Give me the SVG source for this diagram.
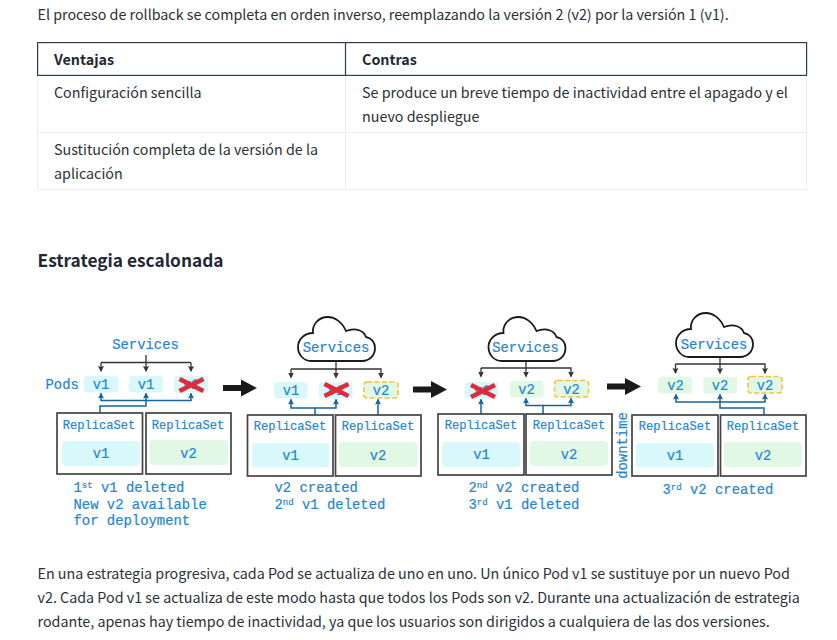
<svg xmlns="http://www.w3.org/2000/svg" xmlns:xlink="http://www.w3.org/1999/xlink" width="837" height="640" viewBox="0 0 837 640">
<style>
.b{font-family:"Noto Sans CJK JP","Noto Sans",sans-serif;font-size:14.3px;fill:#2a2f36}
.h{font-weight:700;fill:#1f2933}
.m{font-family:"Liberation Mono","DejaVu Sans Mono",monospace;fill:#1f86d2;stroke:#1f86d2;stroke-width:.2}
.s{font-size:13.9px}.r{font-size:12.1px}.v{font-size:13.8px}
.sup{font-size:9px}
.mid{text-anchor:middle}
.rs{fill:#fff;stroke:#444;stroke-width:1.7}
.c{fill:#d9f8fc}.g{fill:#e0f8e4}
.d{stroke:#f8c32e;stroke-width:1.6;stroke-dasharray:5 2.5}
.k{fill:none;stroke:#333;stroke-width:1.3}
.u{fill:none;stroke:#14649f;stroke-width:1.5}
.ka{marker-end:url(#mk)}.ua{marker-end:url(#mu)}
.x{stroke:#e02a3a;stroke-width:4.6;fill:none}
.cl{fill:#fff;stroke:#1a1a1a;stroke-width:1.8}
.big{fill:#1a1a1a}
.line{fill:none;stroke:#e8edf6;stroke-width:1}
.hd{fill:none;stroke:#2e3e52;stroke-width:1.2}
</style>
<defs>
<marker id="mk" markerUnits="userSpaceOnUse" markerWidth="8" markerHeight="8" refX="5" refY="3" orient="auto"><path d="M0,0L6,3L0,6L1,3Z" fill="#333"/></marker>
<marker id="mu" markerUnits="userSpaceOnUse" markerWidth="8" markerHeight="8" refX="5" refY="3" orient="auto"><path d="M0,0L6,3L0,6L1,3Z" fill="#14649f"/></marker>
<path id="cloud" class="cl" d="M13,44H64C72,44 77,38 77,31C77,25 73,21 68,20C66,14 58,10 48,14C44,5 37,0 30,0C20,0 14,8 15,16C6,16 0,23 0,30C0,38 6,44 13,44Z"/>
<path id="big" class="big" d="M0,-3H18V-8.5L34,0L18,8.5V3H0Z"/>
<path id="cross" class="x" d="M-12,-6L12,6M-12,6L12,-6"/>
</defs>

<g id="page-text">
<text class="b" x="37.500" y="20">El proceso de rollback se completa en orden inverso, reemplazando la versión 2 (v2) por la versión 1 (v1).</text>
<text class="b h" x="37.500" y="266.500" style="font-size:17.300px">Estrategia escalonada</text>
<text class="b" x="37.500" y="578.500">En una estrategia progresiva, cada Pod se actualiza de uno en uno. Un único Pod v1 se sustituye por un nuevo Pod</text>
<text class="b" x="37.500" y="602.500">v2. Cada Pod v1 se actualiza de este modo hasta que todos los Pods son v2. Durante una actualización de estrategia</text>
<text class="b" x="37.500" y="626.500">rodante, apenas hay tiempo de inactividad, ya que los usuarios son dirigidos a cualquiera de las dos versiones.</text>
</g>

<g id="table">
<path class="line" d="M37.500,75V189.500H806.500V75M345.500,75V189.500M38,132.500H806"/>
<rect class="hd" x="37.600" y="42.600" width="769" height="32.800"/>
<path class="hd" d="M345.500,43V75"/>
<text class="b h" x="54" y="65">Ventajas</text>
<text class="b h" x="362" y="65">Contras</text>
<text class="b" x="54" y="97.500">Configuración sencilla</text>
<text class="b" x="362" y="97.500">Se produce un breve tiempo de inactividad entre el apagado y el</text>
<text class="b" x="362" y="121.500">nuevo despliegue</text>
<text class="b" x="54" y="154.500">Sustitución completa de la versión de la</text>
<text class="b" x="54" y="178.500">aplicación</text>
</g>

<g id="connectors">
<path class="k" d="M146,355V362.500"/><path class="k ka" d="M101,362.500H191M101,362.500V371"/><path class="k ka" d="M146,362.500V371"/><path class="k ka" d="M191,362.500V371"/>
<path class="u ua" d="M146,400.500H101V393.500"/><path class="u ua" d="M146,400.500H191V393.500"/><path class="u ua" d="M100,413V406H146V393.500"/>
<path class="k" d="M336,361V369H291"/><path class="k ka" d="M291,369V377.500"/><path class="k ka" d="M336,369V377.500"/><path class="k ka" d="M336,369H381V377.500"/>
<path class="u ua" d="M315,415V408H291V399.500"/><path class="u ua" d="M315,408H336V399.500"/><path class="u ua" d="M378,415V399.500"/>
<path class="k" d="M526,361V368H481"/><path class="k ka" d="M481,368V376.500"/><path class="k ka" d="M526,368V376.500"/><path class="k ka" d="M526,368H571V376.500"/>
<path class="u ua" d="M481,414V399.500"/><path class="u ua" d="M543,414V405.500H526V398.500"/><path class="u ua" d="M543,405.500H571V398.500"/>
<path class="k" d="M720,357V364H675.500"/><path class="k ka" d="M675.500,364V373"/><path class="k ka" d="M720,364V373"/><path class="k ka" d="M720,364H765V373"/>
<path class="u ua" d="M720,402H676V394.500"/><path class="u ua" d="M720,402H765V394.500"/><path class="u ua" d="M764,415V408H720V394.500"/>
</g>

<g id="step-arrows">
<use xlink:href="#big" href="#big" x="223" y="388"/>
<use xlink:href="#big" href="#big" x="413" y="389.500"/>
<use xlink:href="#big" href="#big" x="607" y="386.500"/>
</g>

<g id="step-1">
<text class="m s mid" x="145.500" y="349">Services</text>
<text class="m s" x="45.500" y="389">Pods</text>
<g id="s1-pod-1"><rect class="c" x="84" y="376" width="34" height="16.500" rx="3"/><text class="m v mid" x="101" y="389">v1</text></g>
<g id="s1-pod-2"><rect class="c" x="129" y="376" width="34" height="16.500" rx="3"/><text class="m v mid" x="146" y="389">v1</text></g>
<g id="s1-pod-3"><rect class="c" x="174" y="376" width="34" height="16.500" rx="3"/><text class="m v mid" x="191" y="389">v1</text><use xlink:href="#cross" href="#cross" x="191.500" y="385"/></g>
<g id="s1-rs-1"><rect class="rs" x="57" y="413" width="85.500" height="61"/><rect class="c" x="62" y="441" width="78" height="25" rx="4"/><text class="m r mid" x="99" y="428.500">ReplicaSet</text><text class="m v mid" x="101" y="458">v1</text></g>
<g id="s1-rs-2"><rect class="rs" x="146" y="413" width="85" height="61"/><rect class="g" x="149.500" y="440" width="78.500" height="25" rx="4"/><text class="m r mid" x="188" y="428.500">ReplicaSet</text><text class="m v mid" x="188.500" y="458">v2</text></g>
<text class="m s" x="73.500" y="492">1<tspan class="sup" dy="-4">st</tspan><tspan dy="4"> v1 deleted</tspan></text>
<text class="m s" x="73.500" y="508.500">New v2 available</text>
<text class="m s" x="73.500" y="525">for deployment</text>
</g>

<g id="step-2">
<use xlink:href="#cloud" href="#cloud" x="298" y="317"/>
<text class="m s mid" x="336" y="352">Services</text>
<g id="s2-pod-1"><rect class="c" x="274" y="382" width="33.500" height="16.500" rx="3"/><text class="m v mid" x="291" y="395">v1</text></g>
<g id="s2-pod-2"><rect class="c" x="319" y="382" width="33.500" height="16.500" rx="3"/><text class="m v mid" x="336" y="395">v1</text><use xlink:href="#cross" href="#cross" x="336.500" y="390"/></g>
<g id="s2-pod-3"><rect class="d" x="364" y="382" width="34" height="16" rx="3" fill="#e0f8e4"/><text class="m v mid" x="381" y="395">v2</text></g>
<g id="s2-rs-1"><rect class="rs" x="247.500" y="415" width="85.500" height="61"/><rect class="c" x="252" y="443" width="77.500" height="24.500" rx="4"/><text class="m r mid" x="290" y="430">ReplicaSet</text><text class="m v mid" x="290.500" y="460">v1</text></g>
<g id="s2-rs-2"><rect class="rs" x="335.500" y="415" width="85.500" height="61"/><rect class="g" x="339" y="442" width="78.500" height="25" rx="4"/><text class="m r mid" x="378" y="430">ReplicaSet</text><text class="m v mid" x="378" y="460">v2</text></g>
<text class="m s" x="274.500" y="492">v2 created</text>
<text class="m s" x="274.500" y="508.500">2<tspan class="sup" dy="-4">nd</tspan><tspan dy="4"> v1 deleted</tspan></text>
</g>

<g id="step-3">
<use xlink:href="#cloud" href="#cloud" x="488.500" y="317"/>
<text class="m s mid" x="525.500" y="352">Services</text>
<g id="s3-pod-1"><rect class="c" x="465" y="382" width="33.500" height="16" rx="3"/><text class="m v mid" x="482" y="395">v1</text><use xlink:href="#cross" href="#cross" x="483" y="391"/></g>
<g id="s3-pod-2"><rect class="g" x="510" y="381" width="33.500" height="16.500" rx="3"/><text class="m v mid" x="526.500" y="394">v2</text></g>
<g id="s3-pod-3"><rect class="d" x="554.500" y="380.500" width="34" height="16.500" rx="3" fill="#e0f8e4"/><text class="m v mid" x="571.500" y="393.500">v2</text></g>
<g id="s3-rs-1"><rect class="rs" x="438" y="414" width="86" height="61"/><rect class="c" x="442" y="442" width="78" height="25" rx="4"/><text class="m r mid" x="481" y="429">ReplicaSet</text><text class="m v mid" x="481.500" y="459">v1</text></g>
<g id="s3-rs-2"><rect class="rs" x="526" y="414" width="86" height="61"/><rect class="g" x="530" y="441" width="78" height="25" rx="4"/><text class="m r mid" x="569" y="429">ReplicaSet</text><text class="m v mid" x="569" y="459">v2</text></g>
<text class="m s" x="468.500" y="492">2<tspan class="sup" dy="-4">nd</tspan><tspan dy="4"> v2 created</tspan></text>
<text class="m s" x="468.500" y="508.500">3<tspan class="sup" dy="-4">rd</tspan><tspan dy="4"> v1 deleted</tspan></text>
</g>

<g id="step-4">
<use xlink:href="#cloud" href="#cloud" x="676" y="313"/>
<text class="m s mid" x="714" y="349">Services</text>
<text class="m s mid" transform="translate(626.500,445.500) rotate(-90)">downtime</text>
<g id="s4-pod-1"><rect class="g" x="658" y="377" width="34" height="16.500" rx="3"/><text class="m v mid" x="675.500" y="390">v2</text></g>
<g id="s4-pod-2"><rect class="g" x="703.500" y="377" width="33.500" height="16.500" rx="3"/><text class="m v mid" x="720" y="390">v2</text></g>
<g id="s4-pod-3"><rect class="d" x="748" y="376.500" width="34" height="16.500" rx="3" fill="#e0f8e4"/><text class="m v mid" x="765" y="390">v2</text></g>
<g id="s4-rs-1"><rect class="rs" x="632" y="415" width="86" height="61"/><rect class="c" x="636" y="443" width="78" height="24.500" rx="4"/><text class="m r mid" x="675" y="430">ReplicaSet</text><text class="m v mid" x="675" y="460">v1</text></g>
<g id="s4-rs-2"><rect class="rs" x="720.500" y="415" width="85.500" height="61"/><rect class="g" x="724" y="442" width="78" height="25" rx="4"/><text class="m r mid" x="763" y="430">ReplicaSet</text><text class="m v mid" x="763" y="459.500">v2</text></g>
<text class="m s" x="662.500" y="494">3<tspan class="sup" dy="-4">rd</tspan><tspan dy="4"> v2 created</tspan></text>
</g>
</svg>
